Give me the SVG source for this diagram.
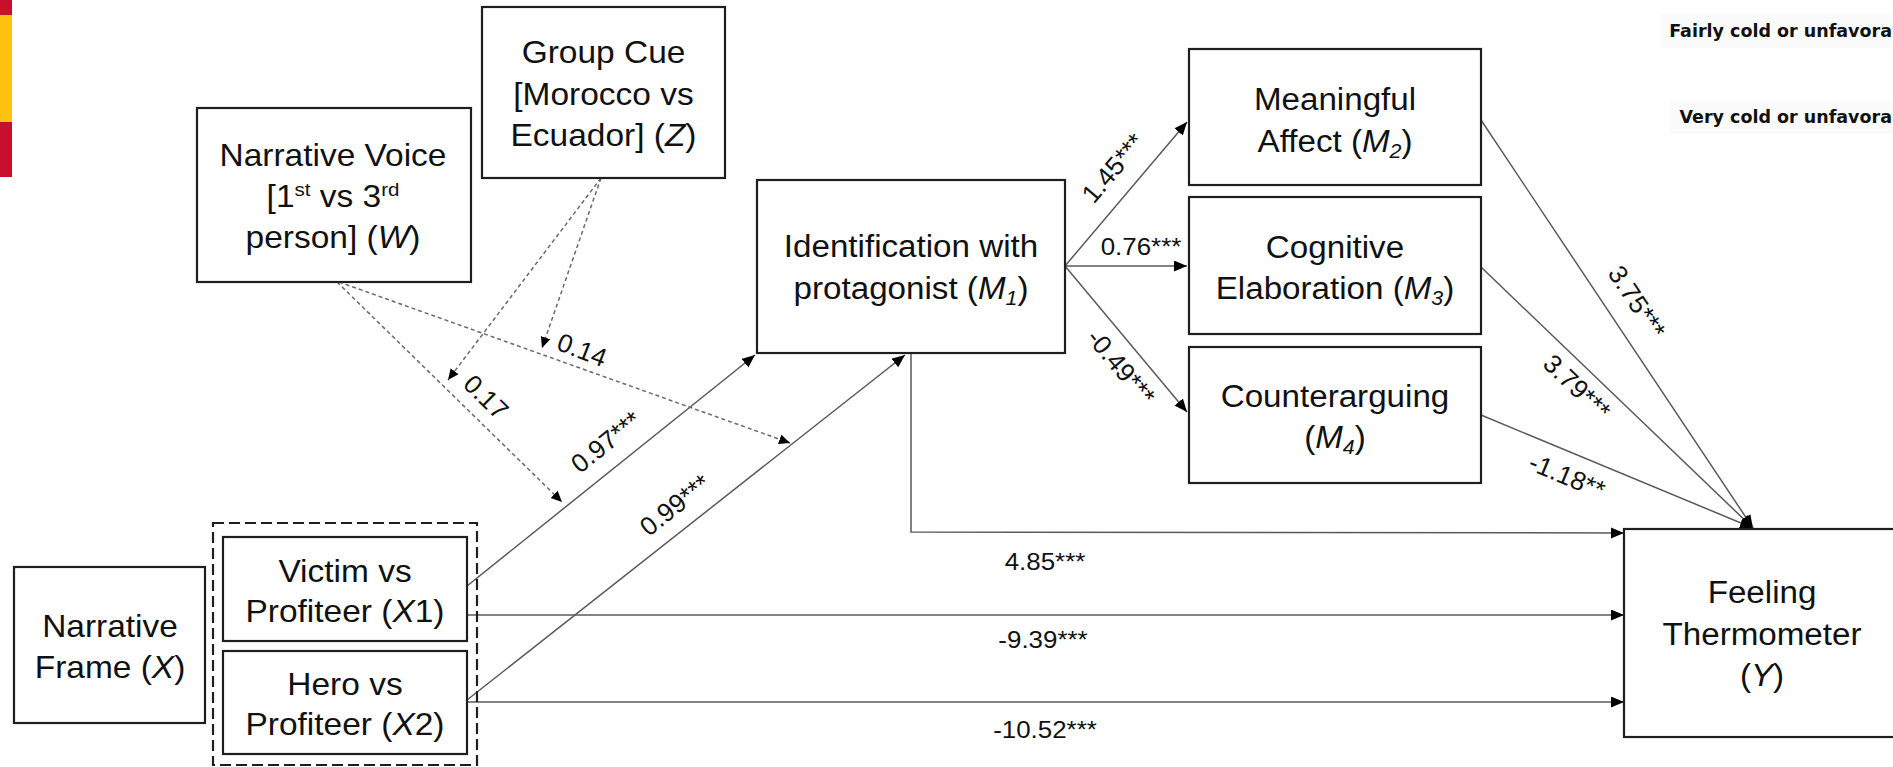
<svg xmlns="http://www.w3.org/2000/svg" width="1893" height="767" viewBox="0 0 1893 767">
<style>
.box{fill:#fff;stroke:#1e1e1e;stroke-width:2.2}
.dbox{fill:none;stroke:#1e1e1e;stroke-width:2.2;stroke-dasharray:11 5}
.n{font-family:"Liberation Sans",Arial,sans-serif;font-size:31px;fill:#111;text-anchor:middle}
.l{font-family:"Liberation Sans",Arial,sans-serif;font-size:24px;fill:#111;text-anchor:middle}
.r{font-family:"Liberation Sans",Arial,sans-serif;font-size:26px;fill:#111;text-anchor:middle}
.c{fill:none;stroke:#5a5a5a;stroke-width:1.5;marker-end:url(#ah)}
.d{fill:none;stroke:#6a6a6a;stroke-width:1.5;stroke-dasharray:4 3;marker-end:url(#ahs)}
.i{font-style:italic}
.k{font-family:"DejaVu Sans",Verdana,sans-serif;font-weight:bold;font-size:17.5px;fill:#111;text-anchor:end}
</style>
<defs>
<marker id="ah" markerUnits="userSpaceOnUse" markerWidth="14" markerHeight="12" refX="13" refY="5.5" orient="auto"><path d="M0,0 L13,5.5 L0,11 z" fill="#000"/></marker>
<marker id="ahs" markerUnits="userSpaceOnUse" markerWidth="12" markerHeight="11" refX="11" refY="5" orient="auto"><path d="M0,0 L11,5 L0,10 z" fill="#000"/></marker>
</defs>
<rect width="1893" height="767" fill="#fff"/>
<g id="bar">
<rect x="0" y="0" width="12" height="15" fill="#c80f2e"/>
<rect x="0" y="15" width="12" height="107" fill="#ffc20e"/>
<rect x="0" y="122" width="12" height="55" fill="#c80f2e"/>
</g>
<g id="legend-cut">
<rect x="1660" y="14" width="233" height="34" fill="#fbfbfb"/>
<rect x="1670" y="100" width="223" height="34" fill="#fbfbfb"/>
<text class="k" x="1892" y="37">Fairly cold or unfavora</text>
<text class="k" x="1892" y="123">Very cold or unfavora</text>
</g>
<g id="connectors">
<path class="c" d="M467,586 L755,355"/>
<path class="c" d="M467,700 L905,355"/>
<path class="c" d="M1065,266 L1187,122"/>
<path class="c" d="M1065,266 L1187,266"/>
<path class="c" d="M1065,266 L1187,412"/>
<path class="c" d="M1481,120 L1753,528"/>
<path class="c" d="M1481,267 L1753,528"/>
<path class="c" d="M1481,415 L1753,528"/>
<path class="c" d="M911,353 L911,532 L1624,533"/>
<path class="c" d="M467,615 L1624,615"/>
<path class="c" d="M467,702 L1624,702"/>
<path class="d" d="M337,282 L562,502"/>
<path class="d" d="M339,282 L790,443"/>
<path class="d" d="M601,178 L448,380"/>
<path class="d" d="M601,178 L542,348"/>
<text class="r" transform="translate(486 397) rotate(44.6)" dy="9">0.17</text>
<text class="r" transform="translate(582 350) rotate(21)" dy="9">0.14</text>
<text class="r" transform="translate(606 442) rotate(-38.6)" dy="9">0.97***</text>
<text class="r" transform="translate(675 505) rotate(-38.4)" dy="9">0.99***</text>
<text class="r" transform="translate(1113 168) rotate(-49.7)" dy="9">1.45***</text>
<text class="l" transform="translate(1141 255) scale(1.08 1)">0.76***</text>
<text class="r" transform="translate(1121 367) rotate(50)" dy="9">-0.49***</text>
<text class="r" transform="translate(1637 302) rotate(56.3)" dy="9">3.75***</text>
<text class="r" transform="translate(1577 387) rotate(43.8)" dy="9">3.79***</text>
<text class="r" transform="translate(1567 476) rotate(22.6)" dy="9">-1.18**</text>
<text class="l" transform="translate(1045 570) scale(1.08 1)">4.85***</text>
<text class="l" transform="translate(1043 648) scale(1.08 1)">-9.39***</text>
<text class="l" transform="translate(1045 738) scale(1.08 1)">-10.52***</text>
</g>
<g id="groupcue">
<rect class="box" x="482" y="7" width="243" height="171"/>
<text class="n" transform="translate(603.5 0) scale(1.08 1)"><tspan x="0" y="63">Group Cue</tspan><tspan x="0" y="105">[Morocco vs</tspan><tspan x="0" y="146">Ecuador] (<tspan class="i">Z</tspan>)</tspan></text>
</g>
<g id="voice">
<rect class="box" x="197" y="108" width="274" height="174"/>
<text class="n" transform="translate(333 0) scale(1.08 1)"><tspan x="0" y="166">Narrative Voice</tspan><tspan x="0" y="207">[1<tspan font-size="19" dy="-11">st</tspan><tspan dy="11"> vs 3</tspan><tspan font-size="19" dy="-11">rd</tspan></tspan><tspan x="0" y="248">person] (<tspan class="i">W</tspan>)</tspan></text>
</g>
<g id="frame">
<rect class="box" x="14" y="567" width="191" height="156"/>
<text class="n" transform="translate(110 0) scale(1.08 1)"><tspan x="0" y="637">Narrative</tspan><tspan x="0" y="678">Frame (<tspan class="i">X</tspan>)</tspan></text>
</g>
<g id="xgroup">
<rect class="dbox" x="213" y="523" width="264" height="242"/>
</g>
<g id="victim">
<rect class="box" x="223" y="537" width="244" height="104"/>
<text class="n" transform="translate(345 0) scale(1.08 1)"><tspan x="0" y="582">Victim vs</tspan><tspan x="0" y="622">Profiteer (<tspan class="i">X</tspan>1)</tspan></text>
</g>
<g id="hero">
<rect class="box" x="223" y="651" width="244" height="103"/>
<text class="n" transform="translate(345 0) scale(1.08 1)"><tspan x="0" y="695">Hero vs</tspan><tspan x="0" y="735">Profiteer (<tspan class="i">X</tspan>2)</tspan></text>
</g>
<g id="identification">
<rect class="box" x="757" y="180" width="308" height="173"/>
<text class="n" transform="translate(911 0) scale(1.07 1)"><tspan x="0" y="257">Identification with</tspan><tspan x="0" y="299">protagonist (<tspan class="i">M</tspan><tspan class="i" font-size="20" dy="6">1</tspan><tspan dy="-6">)</tspan></tspan></text>
</g>
<g id="affect">
<rect class="box" x="1189" y="49" width="292" height="136"/>
<text class="n" transform="translate(1335 0) scale(1.07 1)"><tspan x="0" y="110">Meaningful</tspan><tspan x="0" y="152">Affect (<tspan class="i">M</tspan><tspan class="i" font-size="20" dy="6">2</tspan><tspan dy="-6">)</tspan></tspan></text>
</g>
<g id="elaboration">
<rect class="box" x="1189" y="197" width="292" height="137"/>
<text class="n" transform="translate(1335 0) scale(1.07 1)"><tspan x="0" y="258">Cognitive</tspan><tspan x="0" y="299">Elaboration (<tspan class="i">M</tspan><tspan class="i" font-size="20" dy="6">3</tspan><tspan dy="-6">)</tspan></tspan></text>
</g>
<g id="counter">
<rect class="box" x="1189" y="347" width="292" height="136"/>
<text class="n" transform="translate(1335 0) scale(1.07 1)"><tspan x="0" y="407">Counterarguing</tspan><tspan x="0" y="448">(<tspan class="i">M</tspan><tspan class="i" font-size="20" dy="6">4</tspan><tspan dy="-6">)</tspan></tspan></text>
</g>
<g id="feeling">
<rect class="box" x="1624" y="529" width="280" height="208"/>
<text class="n" transform="translate(1762 0) scale(1.07 1)"><tspan x="0" y="603">Feeling</tspan><tspan x="0" y="645">Thermometer</tspan><tspan x="0" y="686">(<tspan class="i">Y</tspan>)</tspan></text>
</g>
</svg>
